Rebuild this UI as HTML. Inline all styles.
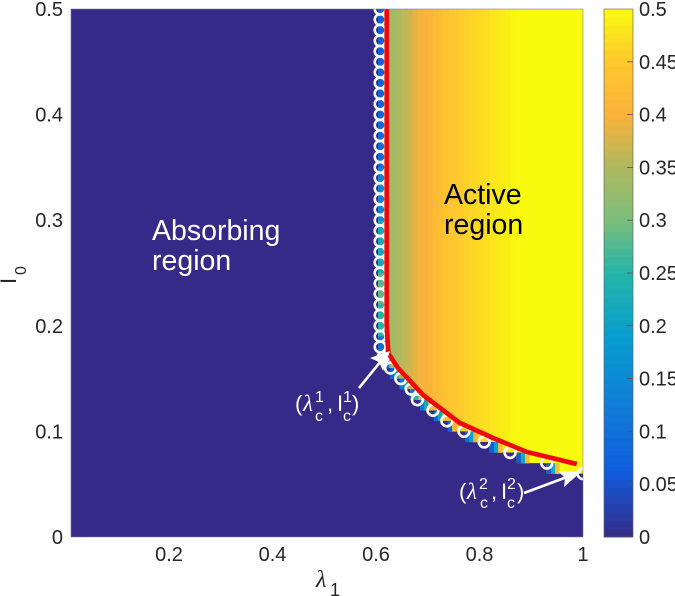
<!DOCTYPE html>
<html lang="en">
<head>
<meta charset="utf-8">
<title>Absorbing and active regions</title>
<style>
html,body{margin:0;padding:0;background:#fff;}
svg{display:block;position:absolute;left:0;top:0;}
text{font-family:"Liberation Sans",sans-serif;}
.tick{font-size:20px;fill:#262626;}
.sym{font-family:"Liberation Serif",serif;font-style:italic;}
</style>
</head>
<body>
<svg id="chart" width="675" height="596" viewBox="0 0 675 596" xmlns="http://www.w3.org/2000/svg">
  <defs><clipPath id="active-clip"><polygon id="active-poly" points="0,0"></polygon></clipPath></defs>
  <g id="heatmap"></g>
  <g id="circles"></g>
  <polyline id="red-line" fill="none" stroke="#ee0a0a" stroke-width="4.7" stroke-linejoin="round"></polyline>
  <rect id="box" fill="none" stroke="#77759a" stroke-opacity="0.55" stroke-width="1"></rect>
  <g id="colorbar"></g>
  <g id="ticks"></g>

  <text x="316" y="587" class="sym" font-size="24" fill="#262626">λ</text>
  <text x="330" y="596" font-size="18" fill="#262626">1</text>
  <text transform="translate(16,284) rotate(-90)" font-size="22" fill="#262626">I</text>
  <text transform="translate(26,275) rotate(-90)" font-size="16" fill="#262626">0</text>

  <text x="152" y="240" font-size="28.5" fill="#fff">Absorbing</text>
  <text x="152" y="270" font-size="28.5" fill="#fff">region</text>
  <text x="444" y="204" font-size="28.5" fill="#000">Active</text>
  <text x="444" y="234" font-size="28.5" fill="#000">region</text>

  <g fill="#fff">
    <line x1="359" y1="388" x2="381" y2="361" stroke="#fff" stroke-width="2.6"></line>
    <polygon points="390,351 383,371 379,362 370,358"></polygon>
    <text x="295" y="411" font-size="22">(</text>
    <text x="303" y="411" class="sym" font-size="23">λ</text>
    <text x="315" y="402" font-size="16">1</text>
    <text x="315" y="421" font-size="16">c</text>
    <text x="327" y="411" font-size="22">,</text>
    <text x="337" y="411" font-size="22">I</text>
    <text x="343" y="402" font-size="16">1</text>
    <text x="343" y="421" font-size="16">c</text>
    <text x="352" y="411" font-size="22">)</text>
  </g>
  <g fill="#fff">
    <line x1="524" y1="493" x2="567" y2="477" stroke="#fff" stroke-width="2.6"></line>
    <polygon points="581,472 564,487 565,478 558,471"></polygon>
    <text x="459" y="499" font-size="22">(</text>
    <text x="467" y="499" class="sym" font-size="23">λ</text>
    <text x="479" y="489" font-size="16">2</text>
    <text x="480" y="508" font-size="16">c</text>
    <text x="491" y="499" font-size="22">,</text>
    <text x="501" y="499" font-size="22">I</text>
    <text x="507" y="489" font-size="16">2</text>
    <text x="507" y="508" font-size="16">c</text>
    <text x="517" y="499" font-size="22">)</text>
  </g>
</svg>
<script>
// ---- data ----
const xTicks = [0.2, 0.4, 0.6, 0.8, 1];
const yTicks = [0, 0.1, 0.2, 0.3, 0.4, 0.5];
const cbTicks = [0, 0.05, 0.1, 0.15, 0.2, 0.25, 0.3, 0.35, 0.4, 0.45, 0.5];
const cbTickLabels = ['0', '0.05', '0.1', '0.15', '0.2', '0.25', '0.3', '0.35', '0.4', '0.45', '0.5'];

// order parameter by lambda column, in the active region
const fieldLambda = [0.61,0.62,0.63,0.64,0.65,0.66,0.67,0.68,0.69,0.70,0.71,0.72,0.73,0.74,0.75,0.76,0.77,0.78,0.79,0.80,0.81,0.82,0.83,0.84,0.85,0.86,0.87,0.88,0.89,0.90,0.91,0.92,0.93,0.94,0.95,0.96,0.97,0.98,0.99];
const fieldValues = [0.33,0.33,0.34,0.35,0.36,0.37,0.385,0.395,0.40,0.41,0.42,0.43,0.44,0.445,0.45,0.455,0.46,0.463,0.466,0.47,0.474,0.478,0.482,0.486,0.49,0.495,0.498,0.5,0.5,0.5,0.5,0.5,0.5,0.5,0.5,0.5,0.5,0.5,0.5];

// staircase: lower edge of the active region
const stairI = [0.17,0.16,0.15,0.14,0.13,0.12,0.11,0.10,0.09,0.08,0.07,0.06];
const stairLeft = [0.615,0.617,0.627,0.646,0.666,0.685,0.712,0.739,0.772,0.82,0.872,0.93];
const stairEdge = [[0.1],[0.08],[0.08,0.2],[0.1,0.22],[0.1,0.25,0.4],[0.1,0.22,0.42],[0.08,0.22],[0.08,0.4],[0.08,0.2,0.4],[0.07,0.2,0.42],[0.06,0.22,0.42],[0.07,0.22,0.42]];

// thin column left of the critical line
const edgeBandTop = [0.5,0.45,0.4,0.35,0.3,0.25,0.22,0.19];
const edgeBandBottom = [0.45,0.4,0.35,0.3,0.25,0.22,0.19,0.17];
const edgeBandValues = [0.07,0.08,0.09,0.14,0.22,0.28,0.25,0.1];

// critical points (circles)
const circleI = [0.5,0.49,0.48,0.47,0.46,0.45,0.44,0.43,0.42,0.41,0.40,0.39,0.38,0.37,0.36,0.35,0.34,0.33,0.32,0.31,0.30,0.29,0.28,0.27,0.26,0.25,0.24,0.23,0.22,0.21,0.20,0.19,0.18,0.17,0.16,0.15,0.14,0.13,0.12,0.11,0.10,0.09,0.08,0.07,0.06];
const circleLambda = [0.608,0.608,0.608,0.608,0.608,0.608,0.608,0.608,0.608,0.608,0.608,0.608,0.608,0.608,0.608,0.608,0.608,0.608,0.608,0.608,0.608,0.608,0.608,0.608,0.608,0.608,0.608,0.608,0.608,0.608,0.608,0.608,0.608,0.6135,0.628,0.648,0.668,0.68,0.71,0.737,0.77,0.809,0.859,0.93,1.0];

// critical line
const lineLambda = [0.6207,0.6207,0.6238,0.6425,0.691,0.762,0.826,0.892,0.988];
const lineI = [0.5,0.2,0.174,0.16,0.1345,0.108,0.0938,0.0805,0.0691];

const lambdaMin = 0.0106, lambdaMax = 1, iMin = 0, iMax = 0.5;
const cmapStops = [[0,53,42,135],[0.125,15,92,221],[0.25,18,125,216],[0.375,7,156,207],[0.5,37,180,169],[0.6,124,189,123],[0.7,175,185,95],[0.8,250,178,58],[0.9,254,200,46],[1,249,251,14]];

// ---- scales ----
function xS(l){ return 65.5 + 517.5 * l; }
function yS(v){ return 537 - 1056 * v; }
function color(v){
  const t = Math.max(0, Math.min(1, v / 0.5));
  for (let i = 1; i < cmapStops.length; i++) {
    if (t <= cmapStops[i][0]) {
      const a = cmapStops[i-1], b = cmapStops[i], f = (t - a[0]) / (b[0] - a[0]);
      return 'rgb(' + [1,2,3].map(k => Math.round(a[k] + (b[k] - a[k]) * f)).join(',') + ')';
    }
  }
  return 'rgb(249,251,14)';
}
const NS = 'http://www.w3.org/2000/svg';
function mk(parent, tag, attrs, txt){
  const el = document.createElementNS(NS, tag);
  for (const k in attrs) el.setAttribute(k, attrs[k]);
  if (txt !== undefined) el.textContent = txt;
  parent.appendChild(el);
  return el;
}
const heat = document.getElementById('heatmap');

// absorbing background
const bg = mk(heat, 'rect', {x:xS(lambdaMin), y:yS(iMax), width:xS(lambdaMax)-xS(lambdaMin), height:yS(iMin)-yS(iMax), fill:color(0)});



// active clip polygon built from the staircase
let pts = [[xS(stairLeft[0]), yS(iMax)]];
stairI.forEach((I, i) => {
  pts.push([xS(stairLeft[i]), yS(i === 0 ? iMax : stairI[i-1])]);
  pts.push([xS(stairLeft[i]), yS(I)]);
});
pts.push([xS(lambdaMax), yS(stairI[stairI.length-1])]);
pts.push([xS(lambdaMax), yS(iMax)]);
document.getElementById('active-poly').setAttribute('points', pts.map(p => p.join(',')).join(' '));

// active field columns
const fieldGroup = mk(heat, 'g', {'clip-path':'url(#active-clip)'});


fieldLambda.forEach((l, i) => {
  const next = i + 1 < fieldLambda.length ? fieldLambda[i+1] : lambdaMax;
  const c = mk(fieldGroup, 'rect', {x:xS(l), y:yS(iMax), width:xS(next)-xS(l)+0.6, height:yS(iMin)-yS(iMax), fill:color(fieldValues[i])});
  
  
});
fieldGroup.lastChild.setAttribute('width', xS(lambdaMax) - xS(fieldLambda[fieldLambda.length-1]));

// staircase edge cells
stairI.forEach((I, i) => {
  stairEdge[i].forEach((v, j) => {
    const cell = mk(heat, 'rect', {x:xS(stairLeft[i] + 0.008 * j), y:yS(I + 0.01), width:xS(0.008)-xS(0)+0.3, height:yS(0)-yS(0.01)+0.3, fill:color(v)});
    
    
  });
});

// edge band
edgeBandValues.forEach((v, i) => {
  const b = mk(heat, 'rect', {x:378, y:yS(edgeBandTop[i]), width:8, height:yS(edgeBandBottom[i])-yS(edgeBandTop[i])+0.3, fill:color(v)});
  
  
});

// critical line
document.getElementById('red-line').setAttribute('points', lineLambda.map((l, i) => xS(l) + ',' + yS(lineI[i])).join(' '));

// circles
const cg = document.getElementById('circles');
circleI.forEach((I, i) => {
  const c = mk(cg, 'circle', {cx:xS(circleLambda[i]), cy:yS(I), r:5.4, fill:'none', stroke:'#fff', 'stroke-width':2.6});
  
  
});

// plot frame
const box = document.getElementById('box');
box.setAttribute('x', xS(lambdaMin));
box.setAttribute('y', yS(iMax));
box.setAttribute('width', xS(lambdaMax) - xS(lambdaMin));
box.setAttribute('height', yS(iMin) - yS(iMax));

// colorbar
const cb = document.getElementById('colorbar');
const cbLevels = 64;
for (let i = 0; i < cbLevels; i++) {
  const v0 = 0.5 * i / cbLevels, v1 = 0.5 * (i + 1) / cbLevels;
  const r = mk(cb, 'rect', {x:604, y:yS(v1), width:29, height:yS(v0)-yS(v1)+0.4, fill:color((v0 + v1) / 2)});
  
  
}
const cbFrame = mk(cb, 'rect', {x:604, y:yS(0.5), width:29, height:yS(0)-yS(0.5), fill:'none', stroke:'#5f5f5f', 'stroke-opacity':0.8, 'stroke-width':0.8});



const tg = document.getElementById('ticks');
cbTicks.forEach((v, i) => {
  if (v > 0 && v < 0.5) {
    const t = mk(cb, 'line', {x1:627, x2:633, y1:yS(v), y2:yS(v), stroke:'#555', 'stroke-width':0.8});
    
    
  }
  const lab = mk(tg, 'text', {x:639, y:yS(v) + 7, class:'tick'}, cbTickLabels[i]);
  
  
});
xTicks.forEach(v => {
  const lab = mk(tg, 'text', {x:xS(v), y:561, class:'tick', 'text-anchor':'middle'}, String(v));
  
  
});
yTicks.forEach(v => {
  const lab = mk(tg, 'text', {x:63, y:yS(v) + 7, class:'tick', 'text-anchor':'end'}, String(v));
  
  
});
</script>
</body>
</html>
